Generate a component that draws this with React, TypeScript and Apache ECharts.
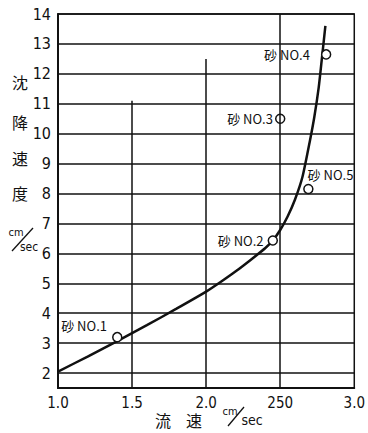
import React, { useEffect, useRef } from 'react';
import * as echarts from 'echarts';

const yTicks = [2, 3, 4, 5, 6, 7, 8, 9, 10, 11, 12, 13, 14];
const xTicks = [1.0, 1.5, 2.0, 2.5, 3.0];
const xTickLabels = ['1.0', '1.5', '2.0', '250', '3.0'];

const curveX = [1.0, 1.2, 1.4, 1.6, 1.8, 2.0, 2.1, 2.2, 2.3, 2.4, 2.45, 2.5, 2.55, 2.6, 2.65, 2.7, 2.73, 2.76, 2.78, 2.805];
const curveY = [2.05, 2.55, 3.07, 3.6, 4.15, 4.72, 5.05, 5.4, 5.78, 6.18, 6.43, 6.78, 7.23, 7.8, 8.55, 9.75, 10.55, 11.55, 12.45, 13.6];

const sandNames = ['砂 NO.1', '砂 NO.2', '砂 NO.3', '砂 NO.4', '砂 NO.5'];
const sandX = [1.4, 2.45, 2.5, 2.81, 2.69];
const sandY = [3.2, 6.43, 10.5, 12.65, 8.15];

const vGridX = [1.5, 2.0, 2.5];
const vGridTop = [11.1, 12.5, 14];

const Y_MIN = 1.5;
const Y_MAX = 14;

const NUM_FONT = "'Liberation Sans Narrow', 'DejaVu Sans Condensed', 'DejaVu Sans', sans-serif";
const CJK_FONT = "'Noto Sans CJK JP', 'Noto Sans CJK SC', sans-serif";

const labelPlacement: Record<string, any> = {
  '砂 NO.1': { position: 'left', distance: 5, offset: [0, -12] },
  '砂 NO.2': { position: 'left', distance: 4, offset: [0, 0] },
  '砂 NO.3': { position: 'left', distance: 2, offset: [0, 0] },
  '砂 NO.4': { position: 'left', distance: 11, offset: [0, 0] },
  '砂 NO.5': { position: 'right', distance: 5, offset: [-11, -15] },
};

export default function App() {
  const ref = useRef<HTMLDivElement>(null);

  useEffect(() => {
    if (!ref.current) return;
    const chart = echarts.init(ref.current, undefined, { renderer: 'svg' });

    const curveData = curveX.map((x, i) => [x, curveY[i]]);
    const sandData = sandNames.map((n, i) => ({
      name: n,
      value: [sandX[i], sandY[i]],
      label: {
        show: true,
        formatter: n,
        color: '#111',
        fontSize: 13,
        fontFamily: CJK_FONT,
        ...labelPlacement[n],
      },
    }));

    const lineStyle = { color: '#111', width: 1.5, type: 'solid' as const };

    const option: any = {
      animation: false,
      backgroundColor: '#fff',
      grid: {
        left: 58,
        right: 8,
        top: 14,
        bottom: 45,
        show: true,
        borderColor: '#111',
        borderWidth: 1.5,
        backgroundColor: 'transparent',
      },
      xAxis: {
        type: 'value',
        min: 1,
        max: 3,
        interval: 0.5,
        axisLine: { show: true, lineStyle: { color: '#111', width: 2 } },
        axisTick: { show: false },
        splitLine: { show: false },
        axisLabel: {
          color: '#111',
          fontSize: 15,
          fontFamily: NUM_FONT,
          margin: 7,
          formatter: (v: number) => {
            const idx = xTicks.findIndex((t) => Math.abs(t - v) < 1e-6);
            return idx >= 0 ? xTickLabels[idx] : '';
          },
        },
      },
      yAxis: {
        type: 'value',
        min: Y_MIN,
        max: Y_MAX,
        axisLine: { show: true, lineStyle: { color: '#111', width: 2 } },
        axisTick: { show: false },
        splitLine: { show: false },
        axisLabel: {
          color: '#111',
          fontSize: 16,
          fontFamily: NUM_FONT,
          margin: 7,
          customValues: yTicks,
          formatter: (v: number) => String(v),
        },
      },
      series: [
        {
          type: 'line',
          data: curveData,
          smooth: 0.2,
          symbol: 'none',
          lineStyle: { color: '#111', width: 2.5 },
          z: 3,
          markLine: {
            silent: true,
            symbol: 'none',
            label: { show: false },
            lineStyle,
            data: [
              ...yTicks.map((v) => ({ yAxis: v })),
              ...vGridX.map((x, i) => [
                { coord: [x, Y_MIN] },
                { coord: [x, vGridTop[i]] },
              ]),
            ],
          },
        },
        {
          type: 'scatter',
          data: sandData,
          symbol: 'circle',
          symbolSize: 9,
          itemStyle: { color: '#fff', borderColor: '#111', borderWidth: 1.5, opacity: 1 },
          z: 4,
        },
      ],
      graphic: [
        ...['沈', '降', '速', '度'].map((c, i) => ({
          type: 'text',
          x: 20,
          y: [82, 122, 158, 193][i],
          style: {
            text: c,
            fontSize: 16,
            fontFamily: CJK_FONT,
            fill: '#111',
            align: 'center',
            verticalAlign: 'middle',
          },
        })),
        {
          type: 'text',
          x: 16,
          y: 232,
          style: { text: 'cm', fontSize: 11, fontFamily: NUM_FONT, fill: '#111', align: 'center', verticalAlign: 'middle' },
        },
        {
          type: 'line',
          shape: { x1: 12, y1: 251, x2: 33, y2: 228 },
          style: { stroke: '#111', lineWidth: 1.3 },
        },
        {
          type: 'text',
          x: 29,
          y: 247,
          style: { text: 'sec', fontSize: 12, fontFamily: NUM_FONT, fill: '#111', align: 'center', verticalAlign: 'middle' },
        },
        {
          type: 'text',
          x: 163,
          y: 420,
          style: { text: '流', fontSize: 16, fontFamily: CJK_FONT, fill: '#111', align: 'center', verticalAlign: 'middle' },
        },
        {
          type: 'text',
          x: 194,
          y: 420,
          style: { text: '速', fontSize: 16, fontFamily: CJK_FONT, fill: '#111', align: 'center', verticalAlign: 'middle' },
        },
        {
          type: 'text',
          x: 230,
          y: 411,
          style: { text: 'cm', fontSize: 11, fontFamily: NUM_FONT, fill: '#111', align: 'center', verticalAlign: 'middle' },
        },
        {
          type: 'line',
          shape: { x1: 228, y1: 426, x2: 244, y2: 407 },
          style: { stroke: '#111', lineWidth: 1.3 },
        },
        {
          type: 'text',
          x: 252,
          y: 420,
          style: { text: 'sec', fontSize: 14, fontFamily: NUM_FONT, fill: '#111', align: 'center', verticalAlign: 'middle' },
        },
      ],
    };

    chart.setOption(option);
    return () => chart.dispose();
  }, []);

  return (
    <div
      ref={ref}
      style={{ position: 'fixed', left: 0, top: 0, width: 368, height: 433, background: '#fff' }}
    />
  );
}
